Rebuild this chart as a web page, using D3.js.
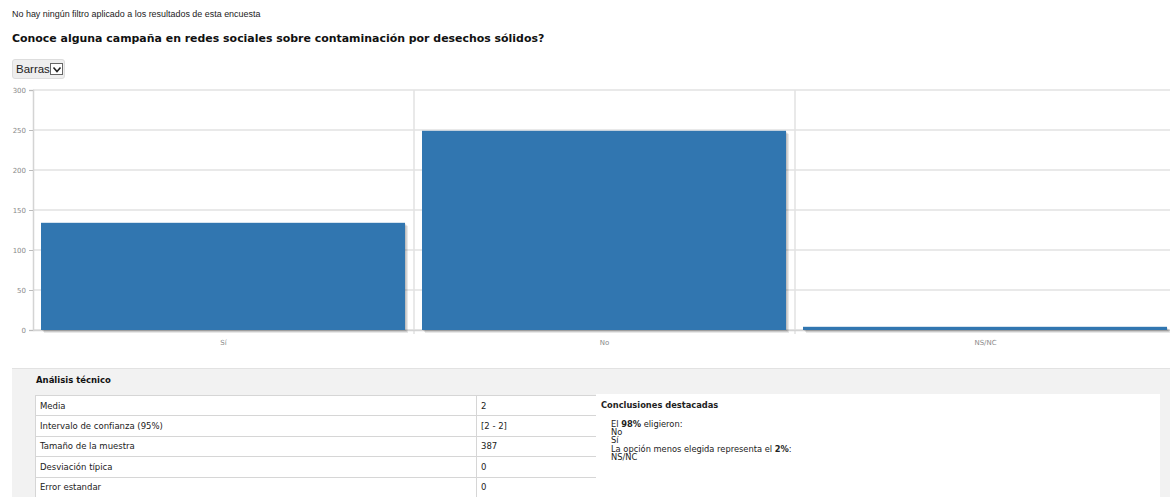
<!DOCTYPE html>
<html lang="es">
<head>
<meta charset="UTF-8">
<title>Conoce alguna campaña</title>
<script src="https://d3js.org/d3.v7.min.js"></script>
<style>
    body {
        margin: 0;
        width: 1170px;
        height: 497px;
        overflow: hidden;
        background: #fff;
        position: relative;
        font-family: "DejaVu Sans", sans-serif;
    }
    .filtro {
        position: absolute;
        left: 12px;
        top: 9px;
        font-family: "Liberation Sans Narrow", "Liberation Sans", sans-serif;
        font-size: 8.95px;
        color: #222;
    }
    .titulo {
        position: absolute;
        left: 12px;
        top: 32px;
        font-size: 10.95px;
        font-weight: bold;
        color: #111;
        white-space: nowrap;
    }
    .selector {
        position: absolute;
        left: 12px;
        top: 59px;
        width: 53px;
        height: 20px;
        background: #eee;
        border: 1px solid #ddd;
        border-radius: 3px;
        box-sizing: border-box;
    }
    .selector span {
        position: absolute;
        left: 3px;
        top: 3px;
        font-family: "Liberation Sans Narrow", "Liberation Sans", sans-serif;
        font-size: 11.5px;
        color: #222;
    }
    .selector .flecha {
        position: absolute;
        left: 37px;
        top: 3px;
        width: 13px;
        height: 12px;
        border: 1px solid #666;
        background: #fff;
        box-sizing: border-box;
    }
    .selector .flecha svg {
        position: absolute;
        left: 1px;
        top: 1px;
    }
    #chart {
        position: absolute;
        left: 0;
        top: 0;
    }
    .analisis {
        position: absolute;
        left: 12px;
        top: 368px;
        width: 1170px;
        height: 140px;
        background: #f2f2f2;
        border-top: 1px solid #e2e2e2;
    }
    .analisis h4 {
        position: absolute;
        left: 24px;
        top: 6px;
        margin: 0;
        font-size: 8.5px;
        font-weight: bold;
        color: #111;
    }
    table.tecnico {
        position: absolute;
        left: 23px;
        top: 26px;
        border-collapse: collapse;
        background: #fff;
        font-size: 8.5px;
        color: #222;
    }
    table.tecnico td {
        border: 1px solid #d6d6d6;
        height: 20.4px;
        padding: 0 0 0 4px;
        box-sizing: border-box;
    }
    .conclusiones {
        position: absolute;
        left: 584px;
        top: 25px;
        width: 564px;
        height: 120px;
        background: #fff;
        font-size: 8.3px;
        color: #222;
    }
    .conclusiones h5 {
        margin: 0;
        position: absolute;
        left: 5px;
        top: 6px;
        font-size: 8.3px;
        font-weight: bold;
    }
    .conclusiones .lineas {
        position: absolute;
        left: 15px;
        top: 26px;
        line-height: 8.2px;
    }
</style>
</head>
<body>
<div class="filtro">No hay ningún filtro aplicado a los resultados de esta encuesta</div>
<div class="titulo">Conoce alguna campaña en redes sociales sobre contaminación por desechos sólidos?</div>
<div class="selector"><span>Barras</span><div class="flecha"><svg width="10" height="9"><path d="M1.5,2.5 L5,6.5 L8.5,2.5" fill="none" stroke="#222" stroke-width="1.6"/></svg></div></div>
<svg id="chart" width="1170" height="360"></svg>
<div class="analisis">
    <h4>Análisis técnico</h4>
    <table class="tecnico"></table>
    <div class="conclusiones">
        <h5>Conclusiones destacadas</h5>
        <div class="lineas"></div>
    </div>
</div>

<script>
    // datos del grafico
    const categorias = ["Sí", "No", "NS/NC"];
    const respuestas = [134, 249, 4];
    const yTicks = [0, 50, 100, 150, 200, 250, 300];

    // tabla de analisis tecnico
    const estadisticos = ["Media", "Intervalo de confianza (95%)", "Tamaño de la muestra", "Desviación típica", "Error estandar"];
    const valoresEstad = ["2", "[2 - 2]", "387", "0", "0"];

    // conclusiones
    const conclusiones = ["El <b>98%</b> eligieron:", "No", "Sí", "La opción menos elegida representa el <b>2%</b>:", "NS/NC"];

    /*------------------- Chart --------------------*/
    const svg = d3.select("#chart");
    const plotLeft = 33, plotRight = 1176, plotTop = 90, plotBottom = 330;

    const x = d3.scaleBand()
        .domain(categorias)
        .range([plotLeft, plotRight]);

    const y = d3.scaleLinear()
        .domain([0, 300])
        .range([plotBottom, plotTop]);

    // grid horizontal
    svg.append("g")
        .selectAll("line")
        .data(yTicks)
        .enter()
        .append("line")
        .attr("x1", plotLeft)
        .attr("x2", plotRight)
        .attr("y1", d => y(d))
        .attr("y2", d => y(d))
        .attr("stroke", "#e2e2e2")
        .attr("stroke-width", 1.5);

    // grid vertical entre categorias
    svg.append("g")
        .selectAll("line")
        .data(categorias.slice(1))
        .enter()
        .append("line")
        .attr("x1", d => x(d))
        .attr("x2", d => x(d))
        .attr("y1", plotTop)
        .attr("y2", plotBottom + 4)
        .attr("stroke", "#e2e2e2")
        .attr("stroke-width", 1.5);

    // eje y
    const yAxis = svg.append("g")
        .attr("transform", `translate(${plotLeft},0)`)
        .call(d3.axisLeft(y).tickValues(yTicks).tickSize(4).tickPadding(3));
    yAxis.select(".domain").attr("stroke", "#d4d4d4").attr("stroke-width", 1.5);
    yAxis.selectAll(".tick line").attr("stroke", "#bbb");
    yAxis.selectAll("text")
        .attr("fill", "#8a8a8a")
        .style("font-size", "7px")
        .style("font-family", "DejaVu Sans, sans-serif");

    // eje x
    const xAxis = svg.append("g")
        .attr("transform", `translate(0,${plotBottom})`)
        .call(d3.axisBottom(x).tickSize(0).tickPadding(10));
    xAxis.select(".domain").attr("stroke", "#d4d4d4").attr("stroke-width", 1.5);
    xAxis.selectAll("text")
        .attr("fill", "#8a8a8a")
        .style("font-size", "7px")
        .style("font-family", "DejaVu Sans, sans-serif");

    // sombras
    const inset = 8;
    const barW = x.bandwidth() - 17;
    [1, 2, 3].forEach(off => {
        svg.append("g")
            .selectAll("rect")
            .data(respuestas)
            .enter()
            .append("rect")
            .attr("x", (d, i) => x(categorias[i]) + inset + off)
            .attr("y", d => y(d) + off)
            .attr("width", barW)
            .attr("height", d => plotBottom - y(d))
            .attr("fill", "rgba(0,0,0,0.09)");
    });

    // barras
    svg.append("g")
        .selectAll("rect")
        .data(respuestas)
        .enter()
        .append("rect")
        .attr("x", (d, i) => x(categorias[i]) + inset)
        .attr("y", d => y(d))
        .attr("width", barW)
        .attr("height", d => plotBottom - y(d))
        .attr("fill", "#3176b0");

    /*------------------- Tabla --------------------*/
    const filas = d3.select("table.tecnico")
        .selectAll("tr")
        .data(estadisticos)
        .enter()
        .append("tr");
    filas.append("td").style("width", "441px").text(d => d);
    filas.append("td").style("width", "120px").text((d, i) => valoresEstad[i]);

    d3.select(".lineas")
        .selectAll("div")
        .data(conclusiones)
        .enter()
        .append("div")
        .html(d => d);
</script>
</body>
</html>
